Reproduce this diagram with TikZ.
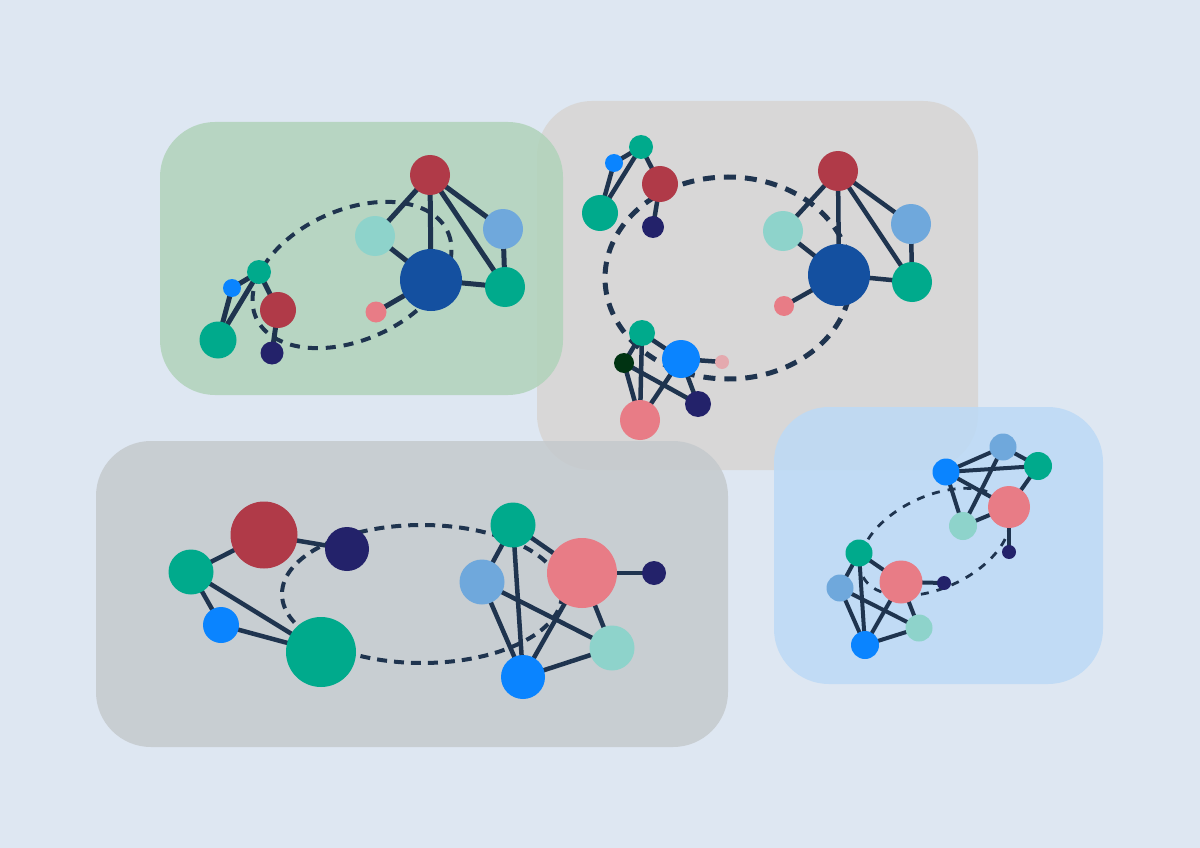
\documentclass[tikz,border=0pt]{standalone}
\definecolor{bgc}{RGB}{222,231,242}
\definecolor{pGray}{RGB}{215,213,211}
\definecolor{pGreen}{RGB}{177,211,186}
\definecolor{pDark}{RGB}{197,202,205}
\definecolor{pBlue}{RGB}{188,218,246}
\definecolor{cEdge}{RGB}{31,52,79}
\definecolor{cRed}{RGB}{176,58,72}
\definecolor{cTeal}{RGB}{0,170,140}
\definecolor{cLB}{RGB}{111,168,220}
\definecolor{cDB}{RGB}{20,80,160}
\definecolor{cMint}{RGB}{142,211,203}
\definecolor{cPink}{RGB}{232,124,134}
\definecolor{cNavy}{RGB}{35,34,106}
\definecolor{cBB}{RGB}{10,132,255}
\definecolor{cDG}{RGB}{0,51,18}
\definecolor{cLP}{RGB}{228,169,174}
\begin{document}
\begin{tikzpicture}[x=1pt,y=-1pt,
  dot/.style 2 args={circle,inner sep=0pt,draw=none,fill=#1,minimum size=#2 pt},
  edge/.style={draw=cEdge,line width=#1pt},
  edge/.default=4.5,
  panel/.style={fill=#1,fill opacity=0.85,rounded corners=55pt}]
\fill[bgc] (0,0) rectangle (1200,848);
\useasboundingbox (0,0) rectangle (1200,848);

% ---------- gray panel (top right) ----------
\fill[panel=pGray] (537,101) rectangle (978,470);
\coordinate (b1) at (838,171);
\coordinate (b2) at (783,231);
\coordinate (b3) at (911,224);
\coordinate (b4) at (839,275);
\coordinate (b5) at (912,282);
\coordinate (b6) at (784,306);
\coordinate (b7) at (641,147);
\coordinate (b8) at (614,163);
\coordinate (b9) at (660,184);
\coordinate (b10) at (600,213);
\coordinate (b11) at (653,227);
\coordinate (b12) at (642,333);
\coordinate (b13) at (624,363);
\coordinate (b14) at (681,359);
\coordinate (b15) at (722,362);
\coordinate (b16) at (698,404);
\coordinate (b17) at (640,420);
\foreach \a/\b in {b1/b2,b1/b4,b1/b3,b1/b5,b3/b5,b2/b4,b4/b5,b4/b6,
  b7/b8,b7/b10,b8/b10,b7/b9,b9/b11,
  b12/b13,b12/b17,b12/b14,b13/b17,b13/b16,b14/b17,b14/b16,b14/b15}
  \draw[edge] (\a) -- (\b);
\draw[cEdge,line width=5pt,dash pattern=on 12pt off 9pt] (728,278) ellipse [x radius=123, y radius=101];
\node[dot={cRed}{40}] (n-b1) at (b1) {};
\node[dot={cMint}{40}] (n-b2) at (b2) {};
\node[dot={cLB}{40}] (n-b3) at (b3) {};
\node[dot={cDB}{62}] (n-b4) at (b4) {};
\node[dot={cTeal}{40}] (n-b5) at (b5) {};
\node[dot={cPink}{20}] (n-b6) at (b6) {};
\node[dot={cTeal}{24}] (n-b7) at (b7) {};
\node[dot={cBB}{18}] (n-b8) at (b8) {};
\node[dot={cRed}{36}] (n-b9) at (b9) {};
\node[dot={cTeal}{36}] (n-b10) at (b10) {};
\node[dot={cNavy}{22}] (n-b11) at (b11) {};
\node[dot={cTeal}{26}] (n-b12) at (b12) {};
\node[dot={cDG}{20}] (n-b13) at (b13) {};
\node[dot={cBB}{38}] (n-b14) at (b14) {};
\node[dot={cLP}{14}] (n-b15) at (b15) {};
\node[dot={cNavy}{26}] (n-b16) at (b16) {};
\node[dot={cPink}{40}] (n-b17) at (b17) {};

% ---------- green panel (top left) ----------
\fill[panel=pGreen] (160,122) rectangle (563,395);
\coordinate (g1) at (430,175);
\coordinate (g2) at (375,236);
\coordinate (g3) at (503,229);
\coordinate (g4) at (431,280);
\coordinate (g5) at (505,287);
\coordinate (g6) at (376,312);
\coordinate (g7) at (259,272);
\coordinate (g8) at (232,288);
\coordinate (g9) at (278,310);
\coordinate (g10) at (218,340);
\coordinate (g11) at (272,353);
\foreach \a/\b in {g1/g2,g1/g4,g1/g3,g1/g5,g3/g5,g2/g4,g4/g5,g4/g6,
  g7/g8,g7/g10,g8/g10,g7/g9,g9/g11}
  \draw[edge=5] (\a) -- (\b);
\draw[cEdge,line width=4pt,dash pattern=on 10pt off 8pt,rotate around={24:(352,275)}] (352,275) ellipse [x radius=105, y radius=65];
\node[dot={cRed}{40}] (n-g1) at (g1) {};
\node[dot={cMint}{40}] (n-g2) at (g2) {};
\node[dot={cLB}{40}] (n-g3) at (g3) {};
\node[dot={cDB}{62}] (n-g4) at (g4) {};
\node[dot={cTeal}{40}] (n-g5) at (g5) {};
\node[dot={cPink}{21}] (n-g6) at (g6) {};
\node[dot={cTeal}{24}] (n-g7) at (g7) {};
\node[dot={cBB}{18}] (n-g8) at (g8) {};
\node[dot={cRed}{36}] (n-g9) at (g9) {};
\node[dot={cTeal}{37}] (n-g10) at (g10) {};
\node[dot={cNavy}{23}] (n-g11) at (g11) {};

% ---------- dark panel (bottom left) ----------
\fill[panel=pDark] (96,441) rectangle (728,747);
\coordinate (d1) at (264,535);
\coordinate (d2) at (347,549);
\coordinate (d3) at (191,572);
\coordinate (d4) at (221,625);
\coordinate (d5) at (321,652);
\coordinate (d6) at (513,525);
\coordinate (d7) at (482,582);
\coordinate (d8) at (582,573);
\coordinate (d9) at (654,573);
\coordinate (d10) at (612,648);
\coordinate (d11) at (523,677);
\foreach \a/\b in {d3/d1,d1/d2,d3/d4,d3/d5,d4/d5,
  d6/d7,d6/d11,d6/d8,d7/d11,d7/d10,d8/d9,d8/d11,d8/d10,d11/d10}
  \draw[edge] (\a) -- (\b);
\draw[cEdge,line width=4pt,dash pattern=on 10pt off 7pt] (422,594) ellipse [x radius=140, y radius=69];
\node[dot={cRed}{67}] (n-d1) at (d1) {};
\node[dot={cNavy}{44}] (n-d2) at (d2) {};
\node[dot={cTeal}{45}] (n-d3) at (d3) {};
\node[dot={cBB}{36}] (n-d4) at (d4) {};
\node[dot={cTeal}{70}] (n-d5) at (d5) {};
\node[dot={cTeal}{45}] (n-d6) at (d6) {};
\node[dot={cLB}{45}] (n-d7) at (d7) {};
\node[dot={cPink}{70}] (n-d8) at (d8) {};
\node[dot={cNavy}{24}] (n-d9) at (d9) {};
\node[dot={cMint}{45}] (n-d10) at (d10) {};
\node[dot={cBB}{44}] (n-d11) at (d11) {};

% ---------- blue panel (bottom right) ----------
\fill[panel=pBlue] (774,407) rectangle (1103,684);
\coordinate (t1) at (1003,447);
\coordinate (t2) at (946,472);
\coordinate (t3) at (1038,466);
\coordinate (t4) at (1009,507);
\coordinate (t5) at (963,526);
\coordinate (t6) at (1009,552);
\coordinate (t7) at (859,553);
\coordinate (t8) at (840,588);
\coordinate (t9) at (901,582);
\coordinate (t10) at (944,583);
\coordinate (t11) at (919,628);
\coordinate (t12) at (865,645);
\foreach \a/\b in {t2/t1,t1/t3,t2/t3,t2/t4,t3/t4,t2/t5,t1/t5,t5/t4,t4/t6,
  t7/t8,t7/t9,t7/t12,t8/t12,t8/t11,t9/t10,t9/t12,t9/t11,t11/t12}
  \draw[edge=4] (\a) -- (\b);
\draw[cEdge,line width=2.8pt,dash pattern=on 8pt off 8pt,rotate around={25:(935,542)}] (935,542) ellipse [x radius=80, y radius=46];
\node[dot={cLB}{27}] (n-t1) at (t1) {};
\node[dot={cBB}{27}] (n-t2) at (t2) {};
\node[dot={cTeal}{28}] (n-t3) at (t3) {};
\node[dot={cPink}{42}] (n-t4) at (t4) {};
\node[dot={cMint}{28}] (n-t5) at (t5) {};
\node[dot={cNavy}{14}] (n-t6) at (t6) {};
\node[dot={cTeal}{27}] (n-t7) at (t7) {};
\node[dot={cLB}{27}] (n-t8) at (t8) {};
\node[dot={cPink}{43}] (n-t9) at (t9) {};
\node[dot={cNavy}{14}] (n-t10) at (t10) {};
\node[dot={cMint}{27}] (n-t11) at (t11) {};
\node[dot={cBB}{28}] (n-t12) at (t12) {};
\end{tikzpicture}
\end{document}
